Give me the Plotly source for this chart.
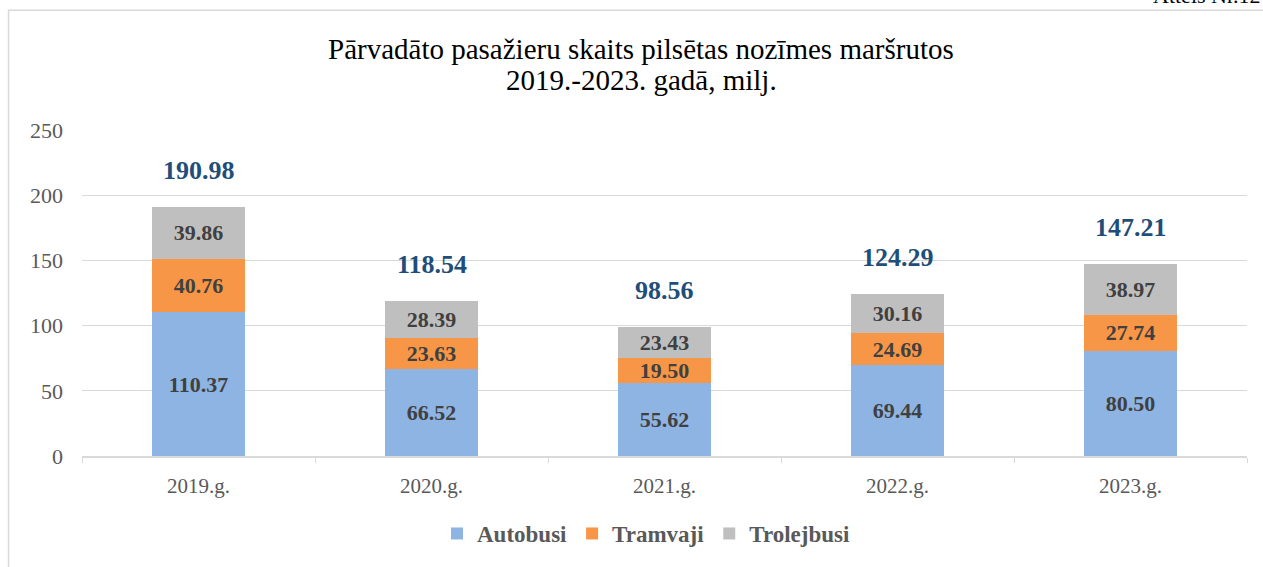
import plotly.graph_objects as go

years = ["2019.g.", "2020.g.", "2021.g.", "2022.g.", "2023.g."]
autobusi = [110.37, 66.52, 55.62, 69.44, 80.50]
tramvaji = [40.76, 23.63, 19.50, 24.69, 27.74]
trolejbusi = [39.86, 28.39, 23.43, 30.16, 38.97]
totals = [190.98, 118.54, 98.56, 124.29, 147.21]
y_ticks = [0, 50, 100, 150, 200, 250]

W, H = 1263, 567
L, R, T, B = 82, 16, 130, 109
pw, ph = W - L - R, H - T - B

def px(p):
    return (p - L) / pw

def py(q):
    return (H - B - q) / ph

serif = "Liberation Serif"

fig = go.Figure()
series = [("Autobusi", autobusi, "#8eb4e3"),
          ("Tramvaji", tramvaji, "#f79646"),
          ("Trolejbusi", trolejbusi, "#bfbfbf")]
for name, vals, col in series:
    fig.add_trace(go.Bar(
        x=years, y=vals, name=name, marker=dict(color=col, line=dict(width=0)),
        text=[f"<b>{v:.2f}</b>" for v in vals], textposition="inside",
        insidetextanchor="middle", constraintext="none",
        textfont=dict(family=serif, size=22, color="#404040"),
        hoverinfo="skip",
    ))

for x, t in zip(years, totals):
    fig.add_annotation(x=x, y=t, text=f"<b>{t:.2f}</b>", showarrow=False,
                       yanchor="bottom", yshift=20,
                       font=dict(family=serif, size=26, color="#1f4e79"))

title_lines = ["Pārvadāto pasažieru skaits pilsētas nozīmes maršrutos",
               "2019.-2023. gadā, milj."]
for line, yc in zip(title_lines, [48, 80]):
    fig.add_annotation(xref="paper", yref="paper", x=px(641), y=py(yc), xanchor="center",
                       yanchor="middle", showarrow=False, text=line,
                       font=dict(family=serif, size=29, color="#000000"))

fig.add_annotation(xref="paper", yref="paper", x=px(1263), y=py(9), xanchor="right",
                   yanchor="bottom", showarrow=False, text="Attēls Nr.12",
                   font=dict(family=serif, size=22, color="#000000"))

fig.add_shape(type="rect", xref="paper", yref="paper",
              x0=px(8.5), x1=px(1290), y0=py(600), y1=py(9.5),
              line=dict(color="#d9d9d9", width=1.5), fillcolor="rgba(0,0,0,0)", layer="below")

fig.update_layout(
    width=W, height=H, barmode="stack", bargap=0.605,
    margin=dict(l=L, r=R, t=T, b=B),
    plot_bgcolor="white", paper_bgcolor="white",
    showlegend=True,
    legend=dict(orientation="h", x=px(646), xanchor="center", y=py(536), yanchor="middle",
                font=dict(family=serif, size=23, color="#595959", weight="bold"),
                itemsizing="constant", traceorder="normal", itemwidth=30),
)
fig.update_yaxes(range=[0, 250], tickvals=y_ticks, showgrid=True, gridcolor="#d9d9d9",
                 gridwidth=1, zeroline=False, showline=False,
                 tickfont=dict(family=serif, size=22, color="#595959"), ticklabelstandoff=18)
fig.update_xaxes(showline=True, linecolor="#d9d9d9", linewidth=1.5, ticks="outside",
                 tickson="boundaries", ticklen=5, tickcolor="#d9d9d9",
                 tickfont=dict(family=serif, size=21, color="#595959"), ticklabelstandoff=10)

fig.write_html("out.html", config={"displayModeBar": False},
               post_script="document.body.style.margin='0';")
